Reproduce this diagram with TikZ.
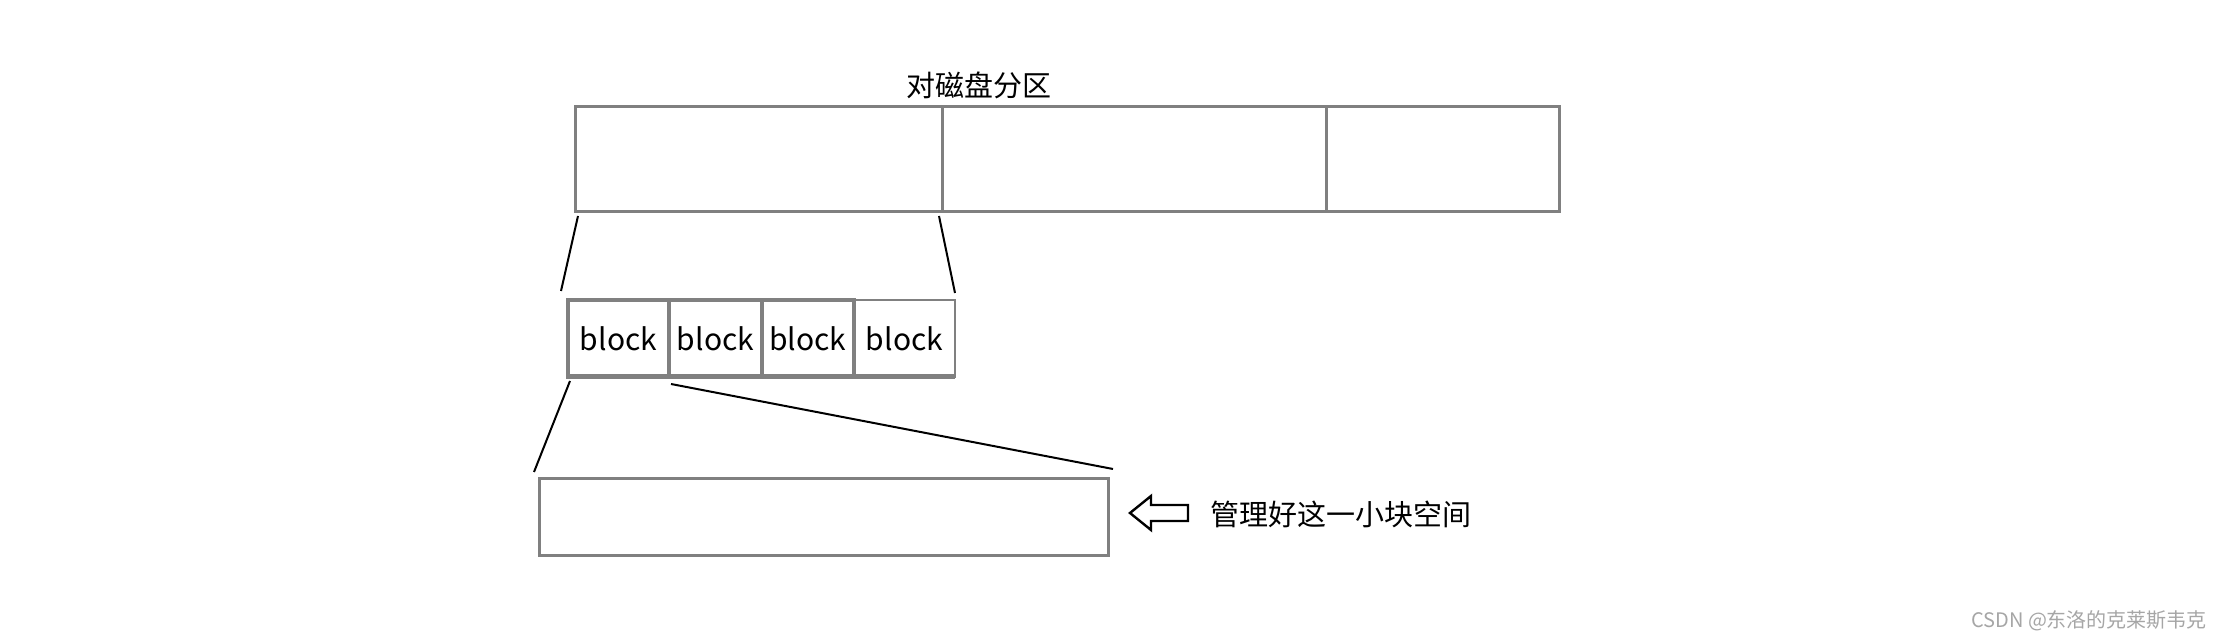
\documentclass[tikz,border=0pt]{standalone}
\usepackage{fontspec}
\setmainfont{Noto Sans CJK SC}
\usepackage{tikz}
\usepackage{xcolor}
\definecolor{boxgray}{RGB}{128,128,128}
\tikzset{
  part/.style={draw=boxgray,line width=1.5pt,anchor=north west,inner sep=0pt,outer sep=0pt,minimum height=52.5pt},
  blk/.style={draw=boxgray,line width=2pt,anchor=north west,inner sep=0pt,outer sep=0pt,minimum height=38.5pt,font=\fontsize{15}{17}\selectfont},
  zoomline/.style={black,line width=1pt}
}

\begin{document}
\begin{tikzpicture}[x=0.5pt,y=-0.5pt]
\useasboundingbox (0,0) rectangle (2228,640);
\node[font=\fontsize{14.5}{17}\selectfont] (T) at (979,85) {对磁盘分区};
\node[part,minimum width=183.5pt] (P1) at (575,107) {};
\node[part,minimum width=192pt] (P2) at (942,107) {};
\node[part,minimum width=116.5pt] (P3) at (1326,107) {};
\coordinate (a1) at (578,216);
\coordinate (a2) at (561,291);
\coordinate (b1) at (939,216);
\coordinate (b2) at (955,293);
\draw[zoomline] (a1)--(a2);
\draw[zoomline] (b1)--(b2);
\node[blk,minimum width=50.5pt] (B1) at (568,300) {block};
\node[blk,minimum width=46.5pt] (B2) at (669,300) {block};
\node[blk,minimum width=46pt] (B3) at (762,300) {block};
\node[blk,line width=1.3pt,minimum width=50.5pt] (B4) at (854,300) {block};
\draw[boxgray,line width=2.5pt] (568,377)--(955,377);
\coordinate (c1) at (570,381);
\coordinate (c2) at (534,472);
\coordinate (d1) at (671,384);
\coordinate (d2) at (1113,469);
\draw[zoomline] (c1)--(c2);
\draw[zoomline] (d1)--(d2);
\node[part,minimum width=284.5pt,minimum height=38.5pt] (M) at (539,479) {};
\draw[black,line width=1.2pt] (1130,513)--(1151,496)--(1151,505)--(1188,505)--(1188,521)--(1151,521)--(1151,530)--cycle;
\node[anchor=west,font=\fontsize{14.5}{17}\selectfont] (L) at (1203,514) {管理好这一小块空间};
\node[anchor=east,text=black!35,font=\fontsize{10}{12}\selectfont] (W) at (2214,621) {CSDN @东洛的克莱斯韦克};
\end{tikzpicture}
\end{document}
